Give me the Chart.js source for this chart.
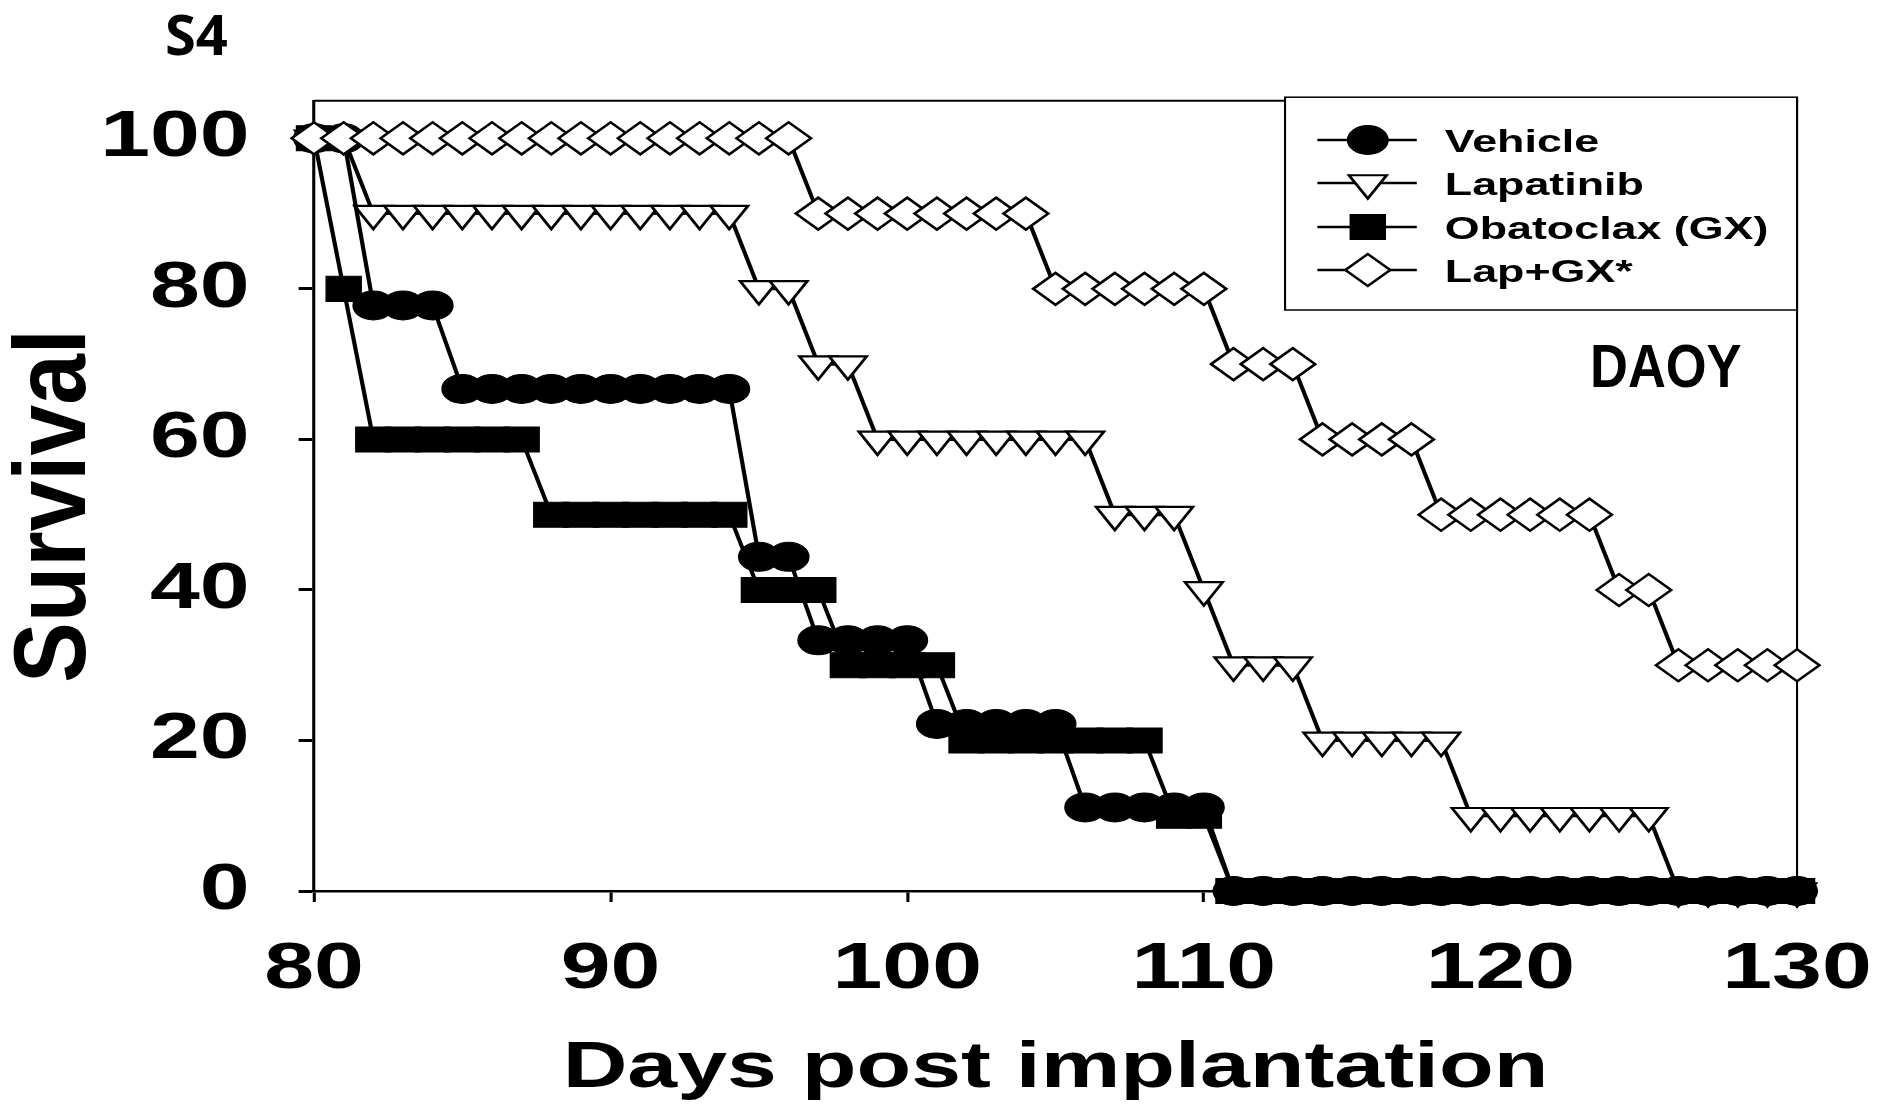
<!DOCTYPE html>
<html>
<head>
<meta charset="utf-8">
<title>S4 DAOY survival</title>
<script src="https://cdn.jsdelivr.net/npm/chart.js"></script>
<style>
  html, body { margin: 0; padding: 0; background: #ffffff; }
  canvas { display: block; }
</style>
</head>
<body>
<canvas id="c" width="1881" height="1105"></canvas>
<script>
// ---------------- data ----------------
const days = [80, 81, 82, 83, 84, 85, 86, 87, 88, 89, 90, 91, 92, 93, 94, 95, 96, 97, 98, 99,
              100, 101, 102, 103, 104, 105, 106, 107, 108, 109, 110, 111, 112, 113, 114, 115, 116, 117, 118, 119,
              120, 121, 122, 123, 124, 125, 126, 127, 128, 129, 130];

const vehicle = [100, 100, 77.8, 77.8, 77.8, 66.7, 66.7, 66.7, 66.7, 66.7, 66.7, 66.7, 66.7, 66.7, 66.7, 44.4, 44.4, 33.3, 33.3, 33.3,
                 33.3, 22.2, 22.2, 22.2, 22.2, 22.2, 11.1, 11.1, 11.1, 11.1, 11.1, 0, 0, 0, 0, 0, 0, 0, 0, 0,
                 0, 0, 0, 0, 0, 0, 0, 0, 0, 0, 0];

const lapatinib = [100, 100, 90, 90, 90, 90, 90, 90, 90, 90, 90, 90, 90, 90, 90, 80, 80, 70, 70, 60,
                   60, 60, 60, 60, 60, 60, 60, 50, 50, 50, 40, 30, 30, 30, 20, 20, 20, 20, 20, 10,
                   10, 10, 10, 10, 10, 10, 0, 0, 0, 0, 0];

const obatoclax = [100, 80, 60, 60, 60, 60, 60, 60, 50, 50, 50, 50, 50, 50, 50, 40, 40, 40, 30, 30,
                   30, 30, 20, 20, 20, 20, 20, 20, 20, 10, 10, 0, 0, 0, 0, 0, 0, 0, 0, 0,
                   0, 0, 0, 0, 0, 0, 0, 0, 0, 0, 0];

const lapGx = [100, 100, 100, 100, 100, 100, 100, 100, 100, 100, 100, 100, 100, 100, 100, 100, 100, 90, 90, 90,
               90, 90, 90, 90, 90, 80, 80, 80, 80, 80, 80, 70, 70, 70, 60, 60, 60, 60, 50, 50,
               50, 50, 50, 50, 40, 40, 30, 30, 30, 30, 30];

const seriesNames = ['Vehicle', 'Lapatinib', 'Obatoclax (GX)', 'Lap+GX*'];
const xTicks = [80, 90, 100, 110, 120, 130];
const yTicks = [0, 20, 40, 60, 80, 100];
const xTitle = 'Days post implantation';
const yTitle = 'Survival';
const figureLabel = 'S4';
const cellLine = 'DAOY';

// ---------------- styling ----------------
const SX = 1.4;                 // the original figure is stretched horizontally
const FONT = "'Liberation Sans', Arial, Helvetica, sans-serif";

function toPoints(values) {
  return days.map((d, i) => ({ x: d, y: values[i] }));
}

const common = {
  borderColor: '#000000',
  borderWidth: 3,
  fill: false,
  tension: 0,
  clip: false,
  showLine: true
};

const datasets = [
  Object.assign({}, common, {
    label: seriesNames[0], data: toPoints(vehicle),
    pointStyle: 'circle', pointRadius: 14.5, pointHoverRadius: 14.5,
    pointBackgroundColor: '#000000', pointBorderColor: '#000000', pointBorderWidth: 1,
    order: 2
  }),
  Object.assign({}, common, {
    label: seriesNames[1], data: toPoints(lapatinib),
    pointStyle: 'triangle', pointRotation: 180, pointRadius: 15.5, pointHoverRadius: 15.5,
    pointBackgroundColor: '#ffffff', pointBorderColor: '#000000', pointBorderWidth: 2.2,
    order: 3
  }),
  Object.assign({}, common, {
    label: seriesNames[2], data: toPoints(obatoclax),
    pointStyle: 'rect', pointRadius: 17.7, pointHoverRadius: 17.7,
    pointBackgroundColor: '#000000', pointBorderColor: '#000000', pointBorderWidth: 1,
    order: 1
  }),
  Object.assign({}, common, {
    label: seriesNames[3], data: toPoints(lapGx),
    pointStyle: 'rectRot', pointRadius: 16, pointHoverRadius: 16,
    pointBackgroundColor: '#ffffff', pointBorderColor: '#000000', pointBorderWidth: 2.2,
    order: 0
  })
];

function drawMarker(c, style, x, y, r, rot, fill, stroke, bw) {
  c.save();
  c.beginPath();
  if (style === 'circle') {
    c.arc(x, y, r, 0, Math.PI * 2);
  } else if (style === 'triangle') {
    const s = rot === 180 ? -1 : 1;
    c.moveTo(x, y - s * r);
    c.lineTo(x - 0.866 * r, y + s * 0.5 * r);
    c.lineTo(x + 0.866 * r, y + s * 0.5 * r);
    c.closePath();
  } else if (style === 'rect') {
    const h = Math.SQRT1_2 * r;
    c.rect(x - h, y - h, 2 * h, 2 * h);
  } else if (style === 'rectRot') {
    c.moveTo(x - r, y); c.lineTo(x, y - r); c.lineTo(x + r, y); c.lineTo(x, y + r);
    c.closePath();
  }
  c.fillStyle = fill; c.fill();
  c.lineWidth = bw; c.strokeStyle = stroke; c.stroke();
  c.restore();
}

const stretchPlugin = {
  id: 'stretchFigure',
  beforeDraw(chart) {
    const c = chart.ctx;
    c.save();
    c.scale(SX, 1);
  },
  beforeDatasetsDraw(chart) {
    const c = chart.ctx, a = chart.chartArea;
    c.save();
    c.strokeStyle = '#000000';
    c.lineWidth = 2;
    c.beginPath(); c.moveTo(a.left, a.top); c.lineTo(a.right + 0.75, a.top); c.stroke();
    c.lineWidth = 1.5;
    c.beginPath(); c.moveTo(a.right, a.top); c.lineTo(a.right, a.bottom); c.stroke();
    c.restore();
  },
  afterDraw(chart) {
    const c = chart.ctx, a = chart.chartArea;
    // ----- legend box (inside the stretched figure) -----
    const box = { left: 917.9, top: a.top - 3.5, right: a.right, bottom: 310 };
    c.save();
    c.fillStyle = '#ffffff';
    c.fillRect(box.left, box.top, box.right - box.left, box.bottom - box.top);
    c.strokeStyle = '#000000';
    c.lineWidth = 1.5;
    c.strokeRect(box.left, box.top, box.right - box.left, box.bottom - box.top);
    const rows = [140, 183, 227, 270];
    chart.data.datasets.forEach((ds, i) => {
      const y = rows[i];
      c.strokeStyle = '#000000';
      c.lineWidth = 2.5;
      c.beginPath(); c.moveTo(941, y); c.lineTo(1012, y); c.stroke();
      drawMarker(c, ds.pointStyle, 977, y, ds.pointRadius, ds.pointRotation || 0,
                 ds.pointBackgroundColor, ds.pointBorderColor, ds.pointBorderWidth);
      c.fillStyle = '#000000';
      c.font = 'bold 32px ' + FONT;
      c.textAlign = 'left';
      c.textBaseline = 'alphabetic';
      c.fillText(ds.label, 1032, y + 11.5);
    });
    c.restore();
    // end of stretched drawing
    c.restore();

    // ----- unstretched overlay texts -----
    c.save();
    c.fillStyle = '#000000';
    c.textBaseline = 'alphabetic';
    // y-axis title
    c.save();
    c.translate(85, 506);
    c.rotate(-Math.PI / 2);
    c.scale(1, 1.13);
    c.font = 'bold 91px ' + FONT;
    c.textAlign = 'center';
    c.fillText(yTitle, 0, 0);
    c.restore();
    // panel label
    c.font = "bold 56px 'Open Sans', " + FONT;
    c.textAlign = 'left';
    c.fillText(figureLabel, 165, 55);
    // cell line label
    c.save();
    c.translate(1590, 387);
    c.scale(0.86, 1);
    c.font = 'bold 61px ' + FONT;
    c.textAlign = 'left';
    c.fillText(cellLine, 0, 0);
    c.restore();
    c.restore();
  }
};

const tickFont = { family: FONT, size: 64, weight: 'bold' };

new Chart(document.getElementById('c'), {
  type: 'line',
  data: { datasets: datasets },
  options: {
    responsive: false,
    animation: false,
    devicePixelRatio: 1,
    layout: { padding: { left: 0, top: 100.7, right: 1881 - 1283.6, bottom: 0 } },
    plugins: {
      legend: { display: false },
      tooltip: { enabled: false },
      title: { display: false }
    },
    scales: {
      x: {
        type: 'linear',
        min: 80, max: 130,
        afterBuildTicks: (s) => { s.ticks = xTicks.map(v => ({ value: v })); },
        afterFit: (s) => { s.height = 1105 - 891; },
        grid: { display: true, drawOnChartArea: false, drawTicks: true, tickLength: 11, tickWidth: 2.2, tickColor: '#000000' },
        border: { display: true, color: '#000000', width: 2.5 },
        ticks: { color: '#000000', font: tickFont, padding: 30, maxRotation: 0, autoSkip: false },
        title: {
          display: true, text: xTitle, color: '#000000',
          font: { family: FONT, size: 64, weight: 'bold', lineHeight: 1 },
          padding: { top: 0, bottom: 4 }
        }
      },
      y: {
        type: 'linear',
        min: 0, max: 105,
        afterBuildTicks: (s) => { s.ticks = yTicks.map(v => ({ value: v })); },
        afterFit: (s) => { s.width = 224.3; },
        grid: { display: true, drawOnChartArea: false, drawTicks: true, tickLength: 11, tickWidth: 3, tickColor: '#000000' },
        border: { display: true, color: '#000000', width: 2.2 },
        ticks: { color: '#000000', font: tickFont, padding: 35, autoSkip: false },
        title: { display: false }
      }
    }
  },
  plugins: [stretchPlugin]
});
</script>
</body>
</html>
